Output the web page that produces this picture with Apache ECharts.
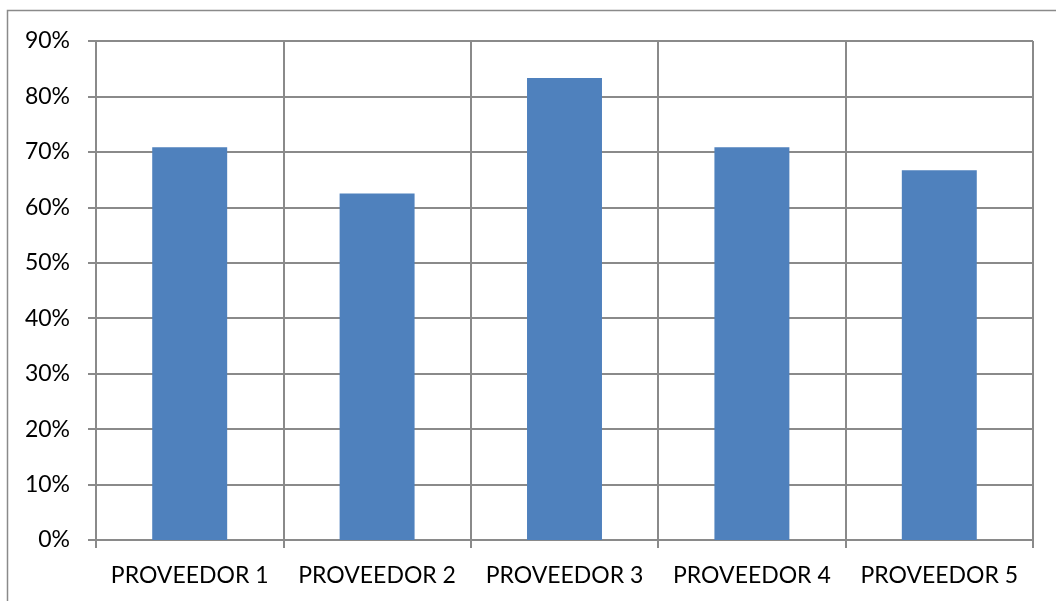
<!DOCTYPE html>
<html>
<head>
<meta charset="utf-8">
<script src="https://cdn.jsdelivr.net/npm/echarts@6/dist/echarts.min.js"></script>
<style>
  html, body { margin: 0; padding: 0; background: #ffffff; }
  #chart { width: 1056px; height: 601px; }
</style>
</head>
<body>
<div id="chart"></div>
<script>
// Supplier scores (share of criteria met)
const categories = ['PROVEEDOR 1', 'PROVEEDOR 2', 'PROVEEDOR 3', 'PROVEEDOR 4', 'PROVEEDOR 5'];
const values = [0.7083, 0.625, 0.8333, 0.7083, 0.6667];
const yMax = 0.9;
const yStep = 0.1;

const gridColor = '#8a8a8a';
const fontFamily = 'Lato, "Open Sans", sans-serif';

const chart = echarts.init(document.getElementById('chart'), null, { renderer: 'canvas' });
chart.setOption({
  animation: false,
  backgroundColor: '#ffffff',
  graphic: [{
    type: 'rect',
    shape: { x: 7.5, y: 10.5, width: 1200, height: 800 },
    style: { fill: 'none', stroke: '#8a8a8a', lineWidth: 1.5 },
    silent: true
  }],
  grid: { left: 96, right: 23, top: 41, bottom: 61, containLabel: false },
  xAxis: {
    type: 'category',
    data: categories,
    boundaryGap: true,
    axisLine: { show: true, lineStyle: { color: gridColor, width: 2 } },
    axisTick: { show: true, length: 8, interval: 0, alignWithLabel: false, lineStyle: { color: gridColor, width: 2 } },
    splitLine: { show: true, interval: 0, lineStyle: { color: gridColor, width: 2 } },
    axisLabel: { color: '#000000', fontSize: 23, fontFamily: fontFamily, margin: 24, interval: 0, hideOverlap: false }
  },
  yAxis: {
    type: 'value',
    min: 0,
    max: yMax,
    interval: yStep,
    axisLine: { show: true, lineStyle: { color: gridColor, width: 2 } },
    axisTick: { show: true, length: 8, lineStyle: { color: gridColor, width: 2 } },
    splitLine: { show: true, lineStyle: { color: gridColor, width: 2 } },
    axisLabel: {
      color: '#000000', fontSize: 23, fontFamily: fontFamily, margin: 26,
      formatter: v => Math.round(v * 100) + '%'
    }
  },
  series: [{
    type: 'bar',
    data: values,
    barWidth: '40%',
    itemStyle: { color: '#4f81bd' }
  }]
});
</script>
</body>
</html>
